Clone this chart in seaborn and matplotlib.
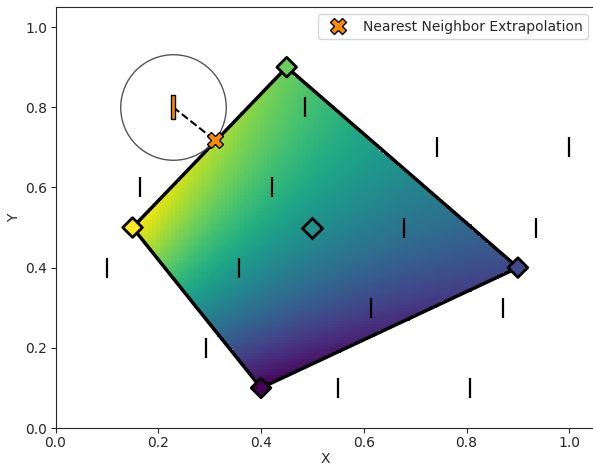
import numpy as np
import matplotlib
matplotlib.use('Agg')
import matplotlib.pyplot as plt
from matplotlib.path import Path
import seaborn as sns

# quadrilateral corners (left, bottom, right, top) and their values
corner_x = [0.15, 0.40, 0.90, 0.45]
corner_y = [0.50, 0.10, 0.40, 0.90]
corner_val = [1.00, 0.00, 0.22, 0.77]

# scattered sample locations drawn as '|' markers
sample_x = [0.100, 0.164, 0.293, 0.357, 0.421, 0.486, 0.550,
            0.614, 0.679, 0.743, 0.807, 0.871, 0.936, 1.000]
sample_y = [0.40, 0.60, 0.20, 0.40, 0.60, 0.80, 0.10,
            0.30, 0.50, 0.70, 0.10, 0.30, 0.50, 0.70]

# query point outside the quad and its nearest point on the boundary
query_x, query_y = [0.229], [0.800]
nearest_x, nearest_y = [0.310], [0.718]
center_x, center_y = [0.50], [0.50]

legend_label = 'Nearest Neighbor Extrapolation'


def bilinear_field(px, py, n=100):
    """Bilinear interpolation of the corner values over the quad (inverse map by Newton)."""
    A = np.array([px[0], py[0]])
    B = np.array([px[1], py[1]])
    C = np.array([px[2], py[2]])
    D = np.array([px[3], py[3]])
    E = A - B + C - D
    xe = np.linspace(min(px), max(px), n + 1)
    ye = np.linspace(min(py), max(py), n + 1)
    xc = 0.5 * (xe[1:] + xe[:-1])
    yc = 0.5 * (ye[1:] + ye[:-1])
    X, Y = np.meshgrid(xc, yc)
    u = np.full(X.shape, 0.5)
    v = np.full(X.shape, 0.5)
    for _ in range(30):
        fx = A[0] + u * (B[0] - A[0]) + v * (D[0] - A[0]) + u * v * E[0] - X
        fy = A[1] + u * (B[1] - A[1]) + v * (D[1] - A[1]) + u * v * E[1] - Y
        a = (B[0] - A[0]) + v * E[0]
        b = (D[0] - A[0]) + u * E[0]
        c = (B[1] - A[1]) + v * E[1]
        d = (D[1] - A[1]) + u * E[1]
        det = a * d - b * c
        u = u - (d * fx - b * fy) / det
        v = v - (-c * fx + a * fy) / det
    f = corner_val
    Z = (1 - u) * (1 - v) * f[0] + u * (1 - v) * f[1] + u * v * f[2] + (1 - u) * v * f[3]
    poly = Path(np.column_stack([px, py]))
    inside = poly.contains_points(np.column_stack([X.ravel(), Y.ravel()])).reshape(X.shape)
    return xe, ye, np.ma.masked_where(~inside, Z)


sns.set_style('ticks')
plt.rcParams['font.family'] = ['DejaVu Sans']

fig = plt.figure(figsize=(5.93, 4.68), dpi=100)
ax = fig.add_axes([55.5 / 593, 40 / 468, 539.5 / 593, 421 / 468])

xe, ye, Z = bilinear_field(corner_x, corner_y)
ax.pcolormesh(xe, ye, Z, cmap='viridis', vmin=0, vmax=1, zorder=1)

# quad outline
ax.plot(corner_x + corner_x[:1], corner_y + corner_y[:1], color='black', lw=2.5, zorder=3)

# sample markers
sns.scatterplot(x=sample_x, y=sample_y, marker='|', s=225, color='black',
                linewidth=1.6, ax=ax, zorder=4, legend=False)

# corner diamonds coloured by value
sns.scatterplot(x=corner_x, y=corner_y, hue=corner_val, palette='viridis',
                hue_norm=(0, 1), marker='D', s=100, edgecolor='black',
                linewidth=2, ax=ax, zorder=5, legend=False)

# centre diamond (unfilled)
ax.plot(center_x, center_y, marker='D', ms=10, mfc='none', mec='black', mew=2,
        ls='none', zorder=5)

# circle around query point
ax.plot(query_x, query_y, marker='o', ms=76, mfc='none', mec='#555555', mew=1,
        ls='none', zorder=4)

# dashed link from query to nearest boundary point
ax.plot(query_x + nearest_x, query_y + nearest_y, ls='--', color='black', lw=1.5, zorder=5)

bar = [(-0.1, -0.5), (0.1, -0.5), (0.1, 0.5), (-0.1, 0.5), (-0.1, -0.5)]
ax.plot(query_x, query_y, marker=bar, ms=17, mfc='darkorange', mec='black', mew=1,
        ls='none', zorder=6)

ax.plot(nearest_x, nearest_y, marker='X', ms=11, mfc='darkorange', mec='black', mew=1,
        ls='none', zorder=6, label=legend_label)

ax.set_xlim(0, 1.05)
ax.set_ylim(0, 1.05)
ax.set_xticks([0.0, 0.2, 0.4, 0.6, 0.8, 1.0])
ax.set_yticks([0.0, 0.2, 0.4, 0.6, 0.8, 1.0])
ax.tick_params(pad=2.5)
ax.set_xlabel('X', labelpad=1)
ax.set_ylabel('Y', labelpad=3)
ax.legend(loc='upper right')

fig.savefig('out.png', dpi=100)
